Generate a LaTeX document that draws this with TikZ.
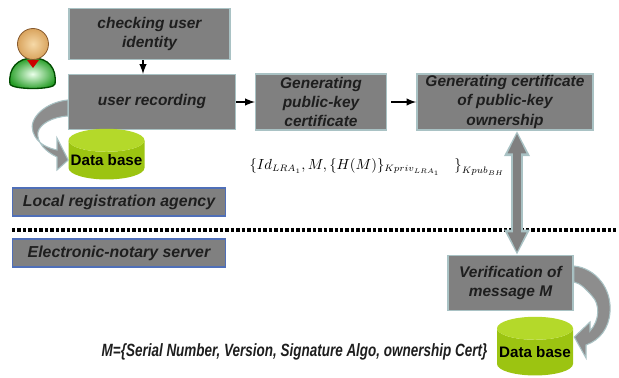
\documentclass[tikz,border=0pt]{standalone}
\usepackage{fontspec}
\setmainfont{Liberation Sans}
\newfontfamily\narrowfont[FakeStretch=0.76]{Liberation Sans}
\usetikzlibrary{shapes.geometric,arrows.meta,calc}
\definecolor{boxgray}{HTML}{808080}
\definecolor{boxedge}{HTML}{A9C2C4}
\definecolor{tagblue}{HTML}{4F6FB8}
\definecolor{dbgreen}{HTML}{9CC411}
\definecolor{dbtop}{HTML}{B4D92A}
\definecolor{inktext}{HTML}{1E1E1E}
\definecolor{headlight}{HTML}{F6D9A8}
\definecolor{headdark}{HTML}{D9A45E}
\tikzset{>=latex}
\tikzset{
  stagebox/.style = {
    draw=boxedge, line width=1.1pt, fill=boxgray, text=inktext, align=center,
    inner sep=0pt, font=\bfseries\itshape\fontsize{11.6}{14.6}\selectfont
  },
  tagbox/.style = {
    stagebox, draw=tagblue, minimum width=160pt, minimum height=21pt,
    font=\bfseries\itshape\fontsize{11.9}{13}\selectfont
  },
  database/.style = {
    cylinder, shape border rotate=90, aspect=0.32, cylinder uses custom fill,
    cylinder body fill=dbgreen, cylinder end fill=dbtop, inner sep=0pt,
    minimum width=57pt, minimum height=38pt, text=black,
    font=\bfseries\fontsize{11.4}{13}\selectfont
  },
  smallarrow/.style = {->, line width=1.5pt, black},
  bentarrow/.style = {draw=boxedge, line width=0.8pt, fill=boxgray!90}
}

\begin{document}
\begin{tikzpicture}[x=0.75pt,y=-0.75pt]
  \useasboundingbox (0,0) rectangle (619,378);
  \node[stagebox,minimum width=121pt,minimum height=38pt] (checking) at (149.5,34) {checking user\\identity};
  \node[stagebox,minimum width=125pt,minimum height=41pt] (recording) at (152,102) {user recording};
  \node[stagebox,minimum width=98pt,minimum height=42pt] (publickey) at (321,102) {Generating\\public-key\\certificate};
  \node[stagebox,minimum width=132pt,minimum height=42pt] (ownership) at (505,102) {Generating certificate\\of public-key\\ownership};
  \node[stagebox,minimum width=94pt,minimum height=41pt] (verification) at (510.5,283) {Verification of\\message M};
  \node[database] (dblocal) at (106.5,160) {Data base};
  \node[database,minimum height=44pt] (dbserver) at (535,352) {Data base};
  \node[tagbox] (localtag) at (119,202) {Local registration agency};
  \node[tagbox] (servertag) at (119,253) {Electronic-notary server};
  \node[font=\fontsize{10.5}{13}\selectfont] (message) at (377,167)
    {$\bigl\{Id_{LRA_1},M,\{H(M)\}_{Kpriv_{LRA_1}}\quad\bigr\}_{Kpub_{BH}}$};
  \node[font=\narrowfont\bfseries\itshape\fontsize{13.3}{15}\selectfont,text=inktext] (fieldlist) at (294.5,352)
    {M=\{Serial Number, Version, Signature Algo, ownership Cert\}};

  \coordinate (sepleft) at (12,230);
  \coordinate (sepright) at (616,230);
  \draw[line width=2.6pt,dash pattern=on 2.6pt off 1.5pt] (sepleft) -- (sepright);

  \coordinate (smallx) at (143,66);
  \draw[smallarrow] (checking.south -| smallx) -- (recording.north -| smallx);
  \draw[smallarrow] (recording) -- (publickey);
  \draw[smallarrow,shorten <=3pt] (publickey) -- (ownership);

  \coordinate (bigx) at (517,200);
  \draw[{Triangle[length=19pt,width=18pt]}-{Triangle[length=19pt,width=18pt]},draw=boxedge,color=boxedge,line width=9.5pt]
    (ownership.south -| bigx) -- (verification.north -| bigx);
  \draw[{Triangle[length=15pt,width=13pt]}-{Triangle[length=15pt,width=13pt]},boxgray,line width=6.5pt,shorten <=2pt,shorten >=2pt]
    (ownership.south -| bigx) -- (verification.north -| bigx);

  \draw[bentarrow] ($(recording.west)+(0,-2)$) .. controls (46,102) and (28,118) .. (33,132)
    .. controls (37,144) and (48,148) .. (57,150) -- (57,138) -- (dblocal.west) -- (57,170) -- (57,157)
    .. controls (46,152) and (36,142) .. (38,132) .. controls (40,124) and (52,117) .. ($(recording.west)+(0,14)$) -- cycle;
  \draw[bentarrow] ($(verification.east)+(0,-17)$) .. controls (595,268) and (612,288) .. (610,312)
    .. controls (609,328) and (600,340) .. (586,345) -- (586,358) -- ($(dbserver.east)+(1,-15)$) -- (590,322)
    -- (590,331) .. controls (600,320) and (600,304) .. (592,296) .. controls (586,289) and (580,283) .. ($(verification.east)+(0,-1)$) -- cycle;

  \shade[inner color=green!8!white,outer color=green!55!black!85,draw=green!30!black,line width=1pt]
    (10,84) .. controls (8,68) and (18,58) .. (33,58) .. controls (48,58) and (57,68) .. (55,84)
    .. controls (54,90) and (12,90) .. (10,84) -- cycle;
  \fill[red!80!black] (27,60) -- (39,60) -- (33,68) -- cycle;
  \shade[inner color=headlight,outer color=headdark,draw=brown!70!black,line width=0.6pt] (33,44) circle (15.5);
\end{tikzpicture}
\end{document}
